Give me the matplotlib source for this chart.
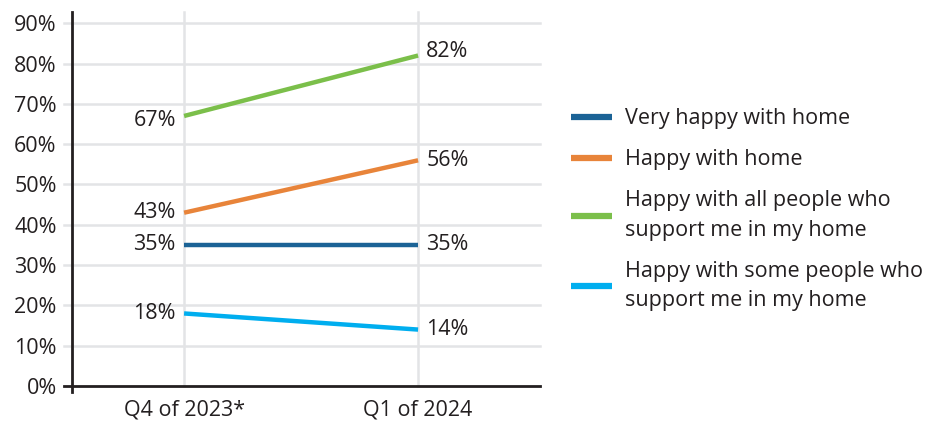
import matplotlib.pyplot as plt
from matplotlib.lines import Line2D

# data
periods = ["Q4 of 2023*", "Q1 of 2024"]
series_names = [
    "Very happy with home",
    "Happy with home",
    "Happy with all people who\nsupport me in my home",
    "Happy with some people who\nsupport me in my home",
]
very_happy = [35, 35]
happy = [43, 56]
all_people = [67, 82]
some_people = [18, 14]
colors = ["#1b6396", "#e8843a", "#7bbf4a", "#00aeef"]

plt.rcParams['font.family'] = ['Open Sans', 'DejaVu Sans']
txt = "#231f20"
fs = 15.5

fig = plt.figure(figsize=(9.35, 4.25), dpi=100)
ax = fig.add_axes([72 / 935, 1 - 386 / 425, (540 - 72) / 935, (386 - 12) / 425])

x = [0, 1]
values = [very_happy, happy, all_people, some_people]
# small vertical nudges so labels clear the lines
nudge = [(0, 0), (0, 0), (-1.2, 1.0), (0, 0)]
for vals, c, (dl, dr) in zip(values, colors, nudge):
    ax.plot(x, vals, color=c, lw=3.2, solid_capstyle='butt', zorder=3)
    ax.text(x[0] - 0.035, vals[0] + dl, f"{vals[0]}%", ha='right', va='center',
            fontsize=fs, color=txt)
    ax.text(x[1] + 0.035, vals[1] + dr, f"{vals[1]}%", ha='left', va='center',
            fontsize=fs, color=txt)

ax.set_xlim(-0.479, 0.521 + 1)
ax.set_ylim(0, 92.8)
ax.set_xticks(x)
ax.set_xticklabels(periods)
ax.set_yticks(range(0, 100, 10))
ax.set_yticklabels([f"{v}%" for v in range(0, 100, 10)])
ax.tick_params(axis='both', length=0, labelsize=fs, colors=txt)
ax.tick_params(axis='y', pad=11)
ax.tick_params(axis='x', pad=10)

for s in ax.spines.values():
    s.set_visible(False)

# gridlines, extending a bit left of the axis
for v in range(10, 100, 10):
    ax.plot([-0.514, 1.521], [v, v], color="#e3e4e6", lw=1.8, zorder=1, clip_on=False)
for xi in x:
    ax.plot([xi, xi], [0, 92.8], color="#e3e4e6", lw=1.8, zorder=1, clip_on=False)

# crossing axis lines
ax.plot([-0.514, 1.521], [0, 0], color="#231f20", lw=2, zorder=4, clip_on=False)
ax.plot([-0.479, -0.479], [-1.5, 92.8], color="#231f20", lw=2, zorder=4, clip_on=False)

handles = [Line2D([], [], color=c, lw=4.5, solid_capstyle='butt') for c in colors]
leg = fig.legend(handles, series_names, loc='upper left',
                 bbox_to_anchor=(552 / 935, 1 - 89 / 425),
                 frameon=False, fontsize=fs, handlelength=1.9, handletextpad=0.6,
                 labelspacing=0.92, labelcolor=txt)
for t in leg.get_texts():
    t.set_linespacing(1.55)

fig.savefig("out.png", dpi=100)
